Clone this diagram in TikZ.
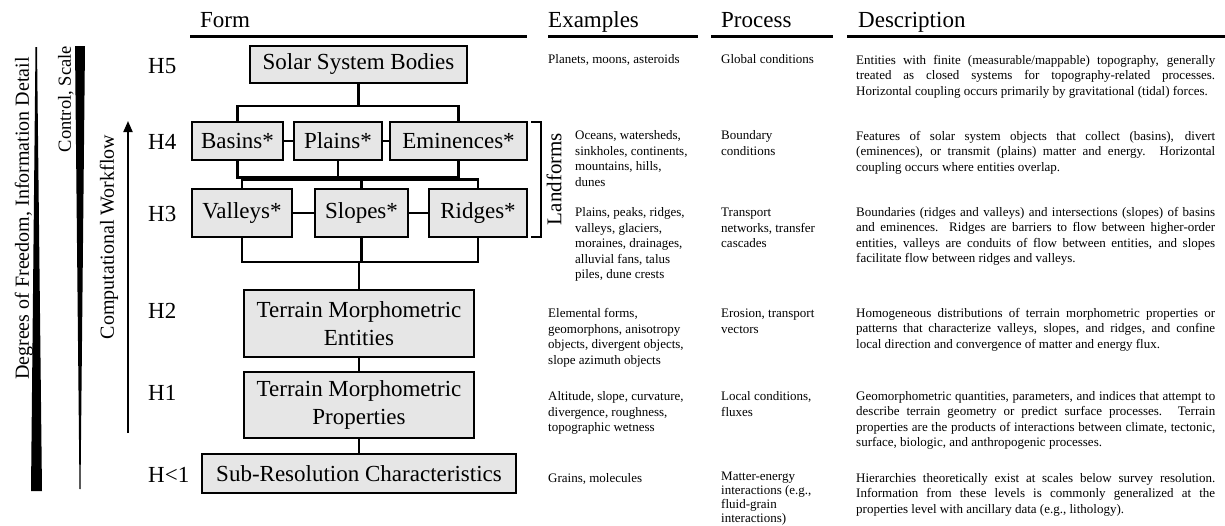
\documentclass[tikz,border=0pt]{standalone}
\usepackage{fontspec}
\setmainfont{Liberation Serif}
\usetikzlibrary{arrows.meta}
\definecolor{boxfill}{RGB}{230,230,230}
\newcommand{\rowsof}[1]{\begin{tabular}[t]{@{}l@{}}#1\end{tabular}}
\newcommand{\jl}[1]{\makebox[359pt][s]{#1}}
\begin{document}
\begin{tikzpicture}[x=1pt,y=-1pt,
  box/.style={draw, line width=2.5pt, fill=boxfill, inner sep=0pt, align=center,
    font=\fontsize{23}{28}\selectfont},
  conn/.style={line width=2.5pt},
  hrule/.style={line width=3pt},
  head/.style={anchor=base west, inner sep=0pt, font=\fontsize{23}{28}\selectfont},
  hlab/.style={anchor=base west, inner sep=0pt, font=\fontsize{23}{28}\selectfont},
  small/.style={anchor=base west, inner sep=0pt, font=\fontsize{13}{15.5}\selectfont},
  vlab/.style={rotate=90, inner sep=0pt, font=\fontsize{20}{24}\selectfont}]
\useasboundingbox (0,0) rectangle (1225,525);

% headers
\node[head] (hform) at (200,27) {Form};
\node[head] (hex) at (548,27) {Examples};
\node[head] (hproc) at (721,27) {Process};
\node[head] (hdesc) at (858,27) {Description};
\draw[hrule] (190,36) -- (527,36);
\draw[hrule] (548,36) -- (698,36);
\draw[hrule] (711,36) -- (833,36);
\draw[hrule] (847,36) -- (1225,36);

% left side bars and labels
\fill (31,491) -- (42,491) -- (37,47) -- (35.5,47) -- cycle;
\fill (75,46) -- (85,46) -- (80.5,489) -- (79.5,489) -- cycle;
\node[vlab, anchor=east] (dof) at (24,57) {Degrees of Freedom, Information Detail};
\node[vlab, anchor=east, font=\fontsize{18.5}{22}\selectfont] (ctl) at (66,46) {Control, Scale};
\node[vlab] (cwf) at (109,237) {Computational Workflow};
\coordinate (cwb) at (128,433);
\coordinate (cwt) at (128,121);
\draw[-{Triangle[length=11pt,width=9pt]}, line width=2pt] (cwb) -- (cwt);

% level labels
\node[hlab] (l5) at (148,73) {H5};
\node[hlab] (l4) at (148,149.5) {H4};
\node[hlab] (l3) at (148,221.5) {H3};
\node[hlab] (l2) at (148,318) {H2};
\node[hlab] (l1) at (148,400) {H1};
\node[hlab] (l0) at (148,482) {H<1};

% boxes
\node[box, minimum width=217pt, minimum height=37pt] (ssb) at (358.5,64.5) {Solar System Bodies};
\node[box, minimum width=91pt, minimum height=38pt] (basins) at (237.5,141) {Basins*};
\node[box, minimum width=88pt, minimum height=38pt] (plains) at (338,141) {Plains*};
\node[box, minimum width=137pt, minimum height=38pt] (emin) at (458.5,141) {Eminences*};
\node[box, minimum width=100pt, minimum height=48pt] (valleys) at (242,213) {Valleys*};
\node[box, minimum width=93pt, minimum height=48pt] (slopes) at (361.5,213) {Slopes*};
\node[box, minimum width=98pt, minimum height=48pt] (ridges) at (478,213) {Ridges*};
\node[box, minimum width=230pt, minimum height=67pt] (tme) at (359,323.5) {Terrain Morphometric\\Entities};
\node[box, minimum width=230pt, minimum height=66pt] (tmp) at (359,405) {Terrain Morphometric\\Properties};
\node[box, minimum width=314pt, minimum height=39pt] (sub) at (359,473.5) {Sub-Resolution Characteristics};

% connectors
\draw[conn] (ssb.south) -- (ssb.south |- 0,106);
\draw[conn] (basins.north) -- (basins.north |- 0,106) -- (emin.north |- 0,106) -- (emin.north);
\draw[conn] (basins.east) -- (plains.west);
\draw[conn] (plains.east) -- (emin.west);
\draw[conn] (basins.south) -- (basins.south |- 0,177.5) -- (emin.south |- 0,177.5) -- (emin.south);
\draw[conn] (plains.south) -- (plains.south |- 0,177.5);
\draw[conn] (valleys.north) -- (valleys.north |- 0,179.5) -- (ridges.north |- 0,179.5) -- (ridges.north);
\draw[conn] (slopes.north) -- (slopes.north |- 0,179.5);
\draw[conn] (valleys.east) -- (slopes.west);
\draw[conn] (slopes.east) -- (ridges.west);
\draw[conn] (valleys.south) -- (valleys.south |- 0,262) -- (ridges.south |- 0,262) -- (ridges.south);
\draw[conn] (slopes.south) -- (slopes.south |- 0,262);
\draw[conn] (tme.north |- 0,262) -- (tme.north);
\draw[conn] (tme.south) -- (tmp.north);
\draw[conn] (tmp.south) -- (sub.north);

% landforms bracket
\coordinate (brt) at (531,122);
\coordinate (brb) at (531,237);
\draw[line width=2pt] (brt) -- ++(10,0) -- ++(0,115) -- (brb);
\node[vlab, font=\fontsize{21}{24}\selectfont] (landf) at (554,179) {Landforms};

% examples
\node[small] (ex5) at (548,63.5) {\rowsof{Planets, moons, asteroids}};
\node[small] (ex4) at (575,139.5) {\rowsof{Oceans, watersheds,\\ sinkholes, continents,\\ mountains, hills,\\ dunes}};
\node[small] (ex3) at (575,216.5) {\rowsof{Plains, peaks, ridges,\\ valleys, glaciers,\\ moraines, drainages,\\ alluvial fans, talus\\ piles, dune crests}};
\node[small] (ex2) at (548,317.5) {\rowsof{Elemental forms,\\ geomorphons, anisotropy\\ objects, divergent objects,\\ slope azimuth objects}};
\node[small] (ex1) at (548,400.5) {\rowsof{Altitude, slope, curvature,\\ divergence, roughness,\\ topographic wetness}};
\node[small] (ex0) at (548,482.5) {\rowsof{Grains, molecules}};

% process
\node[small] (pr5) at (721,63.5) {\rowsof{Global conditions}};
\node[small] (pr4) at (721,139.5) {\rowsof{Boundary\\ conditions}};
\node[small] (pr3) at (721,216.5) {\rowsof{Transport\\ networks, transfer\\ cascades}};
\node[small] (pr2) at (721,317.5) {\rowsof{Erosion, transport\\ vectors}};
\node[small] (pr1) at (721,400.5) {\rowsof{Local conditions,\\ fluxes}};
\node[small, font=\fontsize{13}{14}\selectfont] (pr0) at (721,480) {\rowsof{Matter-energy\\ interactions (e.g.,\\ fluid-grain\\ interactions)}};

% descriptions
\node[small] (de5) at (856,64) {\rowsof{\jl{Entities with finite (measurable/mappable) topography, generally}\\
 \jl{treated as closed systems for topography-related processes.}\\
 Horizontal coupling occurs primarily by gravitational (tidal) forces.}};
\node[small] (de4) at (856,140) {\rowsof{\jl{Features of solar system objects that collect (basins), divert}\\
 \jl{(eminences), or transmit (plains) matter and energy. Horizontal}\\
 coupling occurs where entities overlap.}};
\node[small] (de3) at (856,216) {\rowsof{\jl{Boundaries (ridges and valleys) and intersections (slopes) of basins}\\
 \jl{and eminences. Ridges are barriers to flow between higher-order}\\
 \jl{entities, valleys are conduits of flow between entities, and slopes}\\
 facilitate flow between ridges and valleys.}};
\node[small] (de2) at (856,317) {\rowsof{\jl{Homogeneous distributions of terrain morphometric properties or}\\
 \jl{patterns that characterize valleys, slopes, and ridges, and confine}\\
 local direction and convergence of matter and energy flux.}};
\node[small] (de1) at (856,400) {\rowsof{\jl{Geomorphometric quantities, parameters, and indices that attempt to}\\
 \jl{describe terrain geometry or predict surface processes. Terrain}\\
 \jl{properties are the products of interactions between climate, tectonic,}\\
 surface, biologic, and anthropogenic processes.}};
\node[small] (de0) at (856,482) {\rowsof{\jl{Hierarchies theoretically exist at scales below survey resolution.}\\
 \jl{Information from these levels is commonly generalized at the}\\
 properties level with ancillary data (e.g., lithology).}};
\end{tikzpicture}
\end{document}
